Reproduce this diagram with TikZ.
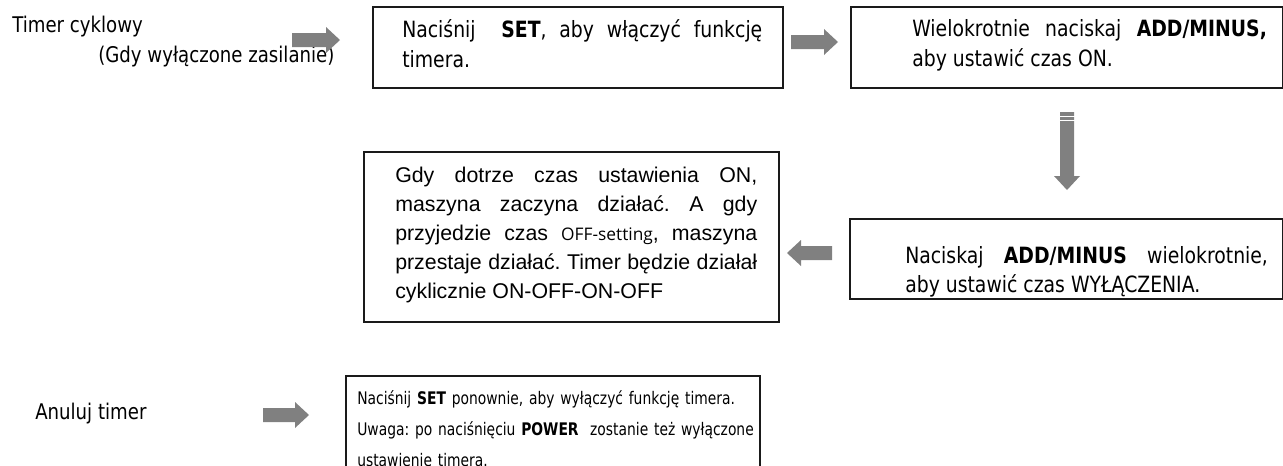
\documentclass[tikz,border=0pt]{standalone}
\usepackage{fontspec}
\setmainfont[FakeStretch=0.84]{DejaVu Sans}
\newfontfamily\narrowf[FakeStretch=0.8]{DejaVu Sans}
\newfontfamily\arialf{Liberation Sans}
\newfontfamily\segoef{Open Sans}
\definecolor{arrowgray}{HTML}{808080}
\definecolor{boxline}{HTML}{1A1A1A}
\frenchspacing
\begin{document}
\begin{tikzpicture}[x=0.75pt,y=-0.75pt]
\tikzset{
  box/.style={draw=boxline, line width=1.3pt, anchor=north west, inner sep=0pt},
  lab/.style={font=\fontsize{16.2}{20}\selectfont, inner sep=0pt, anchor=base west},
  tx/.style={font=\fontsize{16.8}{22.5}\selectfont, inner sep=0pt, anchor=base west, align=justify},
  barrow/.pic={\fill[arrowgray] (0,-7) -- ({#1-14},-7) -- ({#1-14},-13) -- (#1,0) -- ({#1-14},13) -- ({#1-14},7) -- (0,7) -- cycle;}
}
\useasboundingbox (0,0) rectangle (1283,465);
\clip (0,0) rectangle (1283,465);

% boxes
\node[box, minimum width=307.5pt, minimum height=60.75pt] (b1) at (372,6) {};
\node[box, minimum width=324pt, minimum height=60.75pt] (b2) at (850,6) {};
\node[box, minimum width=311.25pt, minimum height=127.5pt] (b3) at (363,151) {};
\node[box, minimum width=324.75pt, minimum height=60pt] (b4) at (849,218) {};
\node[box, minimum width=310.5pt, minimum height=93.75pt] (b5) at (345,375) {};

% labels
\node[lab] (l1) at (12,32) {Timer cyklowy};
\node[lab] (l2) at (98,62) {(Gdy wyłączone zasilanie)};
\node[lab] (l3) at (35,419) {Anuluj timer};

% texts
\node[tx, text width=270pt] (t1) at (402,37)
  {Naciśnij\ \ \textbf{SET}, aby włączyć funkcję\linebreak timera.};
\node[tx, text width=266pt] (t2) at (912,36)
  {Wielokrotnie\ naciskaj\ \textbf{ADD/MINUS,}\linebreak aby ustawić\ czas ON.};
\node[tx, text width=272pt, font=\fontsize{16.8}{21.75}\selectfont] (t4) at (905,263)
  {Naciskaj\ \textbf{ADD/MINUS}\ wielokrotnie,\linebreak aby ustawić\ czas WYŁĄCZENIA.};
\node[tx, text width=271.5pt, font=\arialf\fontsize{16}{21.75}\selectfont] (t3) at (395,182)
  {Gdy dotrze czas ustawienia ON,\linebreak maszyna zaczyna działać. A gdy\linebreak przyjedzie czas {\segoef\fontsize{13}{15}\selectfont OFF-setting}, maszyna\linebreak przestaje działać. Timer będzie działał\linebreak cyklicznie ON-OFF-ON-OFF};
\node[tx, align=left, text width=305pt, font=\narrowf\fontsize{13}{23.6}\selectfont] (t5) at (357,404)
  {Naciśnij \textbf{SET} ponownie, aby wyłączyć funkcję timera.\\Uwaga: po naciśnięciu \textbf{POWER}\ \ zostanie też wyłączone\\ustawienie timera.};

% block arrows
\pic at (292,40) {barrow=48};
\pic at (791,42) {barrow=47};
\pic[rotate=-90] at (1067,112) {barrow=78};
\draw[white, line width=0.6pt] (1059,116) -- (1075,116) (1059,120) -- (1075,120);
\pic[rotate=180] at (832,253) {barrow=45};
\pic at (263,415) {barrow=46};
\end{tikzpicture}
\end{document}
